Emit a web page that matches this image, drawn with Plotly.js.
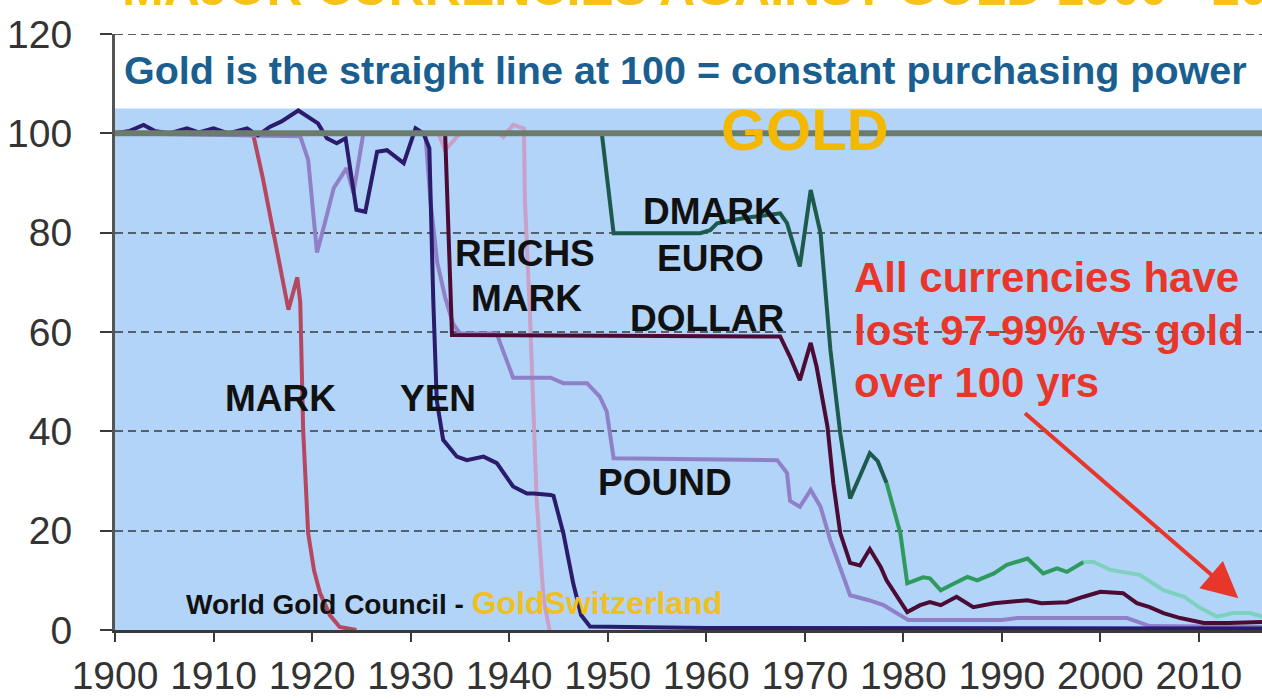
<!DOCTYPE html>
<html>
<head>
<meta charset="utf-8">
<script src="https://cdn.plot.ly/plotly-3.0.1.min.js"></script>
<style>html,body{margin:0;padding:0;background:#fff;}#chart{width:1262px;height:699px;}</style>
</head>
<body>
<div id="chart"></div>
<script>
// ---- Data (index, gold = 100) ----
const tickYears = [1900, 1910, 1920, 1930, 1940, 1950, 1960, 1970, 1980, 1990, 2000, 2010];
const tickLabels = ["1900", "1910", "1920", "1930", "1940", "1950", "1960", "1970", "1980", "1990", "2000", "2010"];
const yTicks = [0, 20, 40, 60, 80, 100, 120];

const goldYears = [1900, 2016.4];
const goldValues = [100, 100];

const markYears = [1900, 1914, 1915, 1916, 1917, 1917.6, 1918.5, 1918.8, 1919.1, 1919.6, 1920.2, 1920.8, 1921.8, 1922.8, 1924.5];
const markValues = [100, 100, 91, 81, 71, 64.5, 71, 66, 40, 19.5, 12, 7.5, 3, 0.6, 0];

const yenYears = [1900, 1901.5, 1902.9, 1904, 1905.5, 1907.3, 1908.5, 1910, 1911.5, 1913.4, 1914.5, 1915.7, 1916.9, 1918.6, 1920.6, 1921.5, 1922.5, 1923.4, 1924.5, 1925.4, 1926.6, 1927.6, 1929.3, 1930.5, 1931.3, 1931.9, 1932.3, 1932.65, 1933.3, 1934.7, 1935.7, 1937.4, 1938.75, 1940.4, 1941.8, 1942.5, 1944.2, 1944.5, 1945.5, 1946.5, 1947.3, 1948.2, 1960, 1980, 2000, 2016.4];
const yenValues = [100, 100.5, 101.7, 100.5, 100, 101, 100.2, 101, 100, 101, 99.6, 101.3, 102.4, 104.6, 102, 99, 98, 99, 84.6, 84.2, 96.3, 96.6, 94, 101, 100, 97, 66.4, 46.3, 38.3, 34.9, 34.2, 34.9, 33.6, 28.9, 27.5, 27.5, 27.2, 27, 19.5, 9.4, 3, 0.7, 0.4, 0.4, 0.4, 0.3];

const poundYears = [1900, 1918.8, 1919.6, 1920.5, 1921.3, 1922.2, 1923.5, 1924.2, 1925.2, 1931.5, 1932.0, 1932.7, 1933.5, 1934.3, 1935, 1938.75, 1939.1, 1940.4, 1944.2, 1945.5, 1947.9, 1949.2, 1949.9, 1950.6, 1967.2, 1968.2, 1968.5, 1969.5, 1970.6, 1971.6, 1972.6, 1974.6, 1976.5, 1978, 1980, 1980.5, 1990, 1991.6, 1997, 2002.7, 2005, 2016.4];
const poundValues = [100, 99.4, 94.7, 76, 82, 89, 93, 88, 100, 100, 86.6, 74, 67, 61.7, 59.7, 59.7, 57.7, 50.8, 50.8, 49.7, 49.7, 47, 44, 34.6, 34.2, 31.6, 26, 24.8, 28.2, 24.8, 18, 7, 6, 5, 2.6, 2, 2, 2.4, 2.4, 2.4, 0.8, 0.6];

const reichsYears = [1924, 1932.8, 1933.5, 1935, 1939, 1939.4, 1940.4, 1941.5, 1941.6, 1942.1, 1942.8, 1943.5, 1944.1];
const reichsValues = [100, 100, 96.6, 100, 100, 99.3, 101.7, 101, 86.6, 64, 26, 6, 0];

const dollarYears = [1900, 1933.5, 1934.2, 1967.5, 1968.5, 1969.5, 1970.6, 1971.2, 1972.3, 1972.9, 1973.6, 1974.6, 1975.6, 1976.6, 1977.7, 1978.3, 1980.4, 1981.7, 1982.7, 1983.8, 1985.4, 1987.1, 1989.2, 1992.6, 1994, 1996.6, 1998.3, 2000, 2002.3, 2003.7, 2005, 2006.4, 2008.1, 2010.5, 2013, 2016.4];
const dollarValues = [100, 100, 59.4, 59.1, 55, 50.3, 57.8, 53, 41, 29.5, 19.5, 13.5, 13, 16.3, 12.7, 10, 3.6, 5, 5.6, 5, 6.7, 4.6, 5.4, 6, 5.4, 5.6, 6.7, 7.7, 7.4, 5.4, 4.6, 3.4, 2.4, 1.4, 1.4, 1.6];

const dmarkYears = [1949.4, 1950.25, 1950.6, 1959.4, 1960.4, 1961.1, 1964, 1967.5, 1968.2, 1969.5, 1970.6, 1971.6, 1972.6, 1973.6, 1974.6, 1975.6, 1976.6, 1977.4, 1978.3];
const dmarkValues = [100, 86.6, 79.9, 79.9, 80.5, 81.9, 83, 83.9, 81.9, 73.2, 88.6, 79.9, 56.4, 39.6, 26.5, 31, 35.6, 34, 29.6];

const dmarkLateYears = [1978.3, 1979.7, 1980.4, 1982, 1982.7, 1983.8, 1985, 1986.5, 1987.5, 1989.2, 1990.5, 1992.6, 1994.2, 1995.6, 1996.6, 1998.3];
const dmarkLateValues = [29.6, 19.5, 9.4, 10.6, 10.4, 8, 9.2, 10.7, 10, 11.4, 13.1, 14.4, 11.4, 12.4, 11.7, 13.7];

const euroYears = [1998.3, 1999.3, 2001, 2004, 2006.4, 2008.5, 2010, 2011.8, 2013.5, 2015.2, 2016.4];
const euroValues = [13.7, 13.7, 12.1, 11.1, 8, 6.7, 4.6, 2.7, 3.4, 3.4, 2.7];

// ---- Styling ----
const FONT = '"Liberation Sans", Arial, Helvetica, sans-serif';
function line(x, y, color, width) {
  return {x: x, y: y, type: 'scatter', mode: 'lines', hoverinfo: 'skip', showlegend: false,
          line: {color: color, width: width, shape: 'linear'}};
}

const traces = [
  line(markYears, markValues, '#b5485f', 4),
  line(reichsYears, reichsValues, '#c9a0c8', 4),
  line(poundYears, poundValues, '#8f80c8', 4),
  line(yenYears, yenValues, '#2a1b6b', 4),
  line(dollarYears, dollarValues, '#4c0b34', 4),
  line(dmarkYears, dmarkValues, '#1b5a4d', 4),
  line(dmarkLateYears, dmarkLateValues, '#2f9a5e', 4),
  line(euroYears, euroValues, '#7ed0bf', 4),
  line(goldYears, goldValues, '#6c7c6c', 6)
];

function label(text, x, y, size, color, anchor) {
  return {text: text, x: x, y: y, xref: 'x', yref: 'y', showarrow: false,
          xanchor: anchor || 'center', yanchor: 'middle',
          font: {family: FONT, size: size, color: color, weight: 'bold'}};
}

const annotations = [
  {text: 'MAJOR CURRENCIES AGAINST GOLD 1900 - 2011', xref: 'paper', yref: 'paper', x: 0.004, y: 1.078,
   xanchor: 'left', yanchor: 'middle', showarrow: false,
   font: {family: FONT, size: 50, color: '#f7c21a', weight: 'bold'}},
  label('Gold is the straight line at 100 = constant purchasing power', 1900.7, 112.7, 39.5, '#1a5f8f', 'left'),
  label('GOLD', 1970.05, 100.7, 58, '#f5b800'),
  label('DMARK', 1960.6, 84.2, 37, '#111'),
  label('EURO', 1960.4, 74.9, 37, '#111'),
  label('REICHS', 1941.6, 75.9, 37, '#111'),
  label('MARK', 1941.8, 66.8, 37, '#111'),
  label('DOLLAR', 1960.1, 62.8, 37, '#111'),
  label('MARK', 1916.75, 46.7, 37, '#111'),
  label('YEN', 1932.8, 46.7, 37, '#111'),
  label('POUND', 1955.8, 29.6, 37, '#111'),
  label('All currencies have', 1974.8, 70.9, 42, '#e8372a', 'left'),
  label('lost 97-99% vs gold', 1974.8, 60.4, 42, '#e8372a', 'left'),
  label('over 100 yrs', 1974.8, 49.9, 42, '#e8372a', 'left'),
  label('World Gold Council - <span style="color:#f0c020;font-size:32px">GoldSwitzerland</span>', 1907.0, 5.5, 28, '#111', 'left'),
  {text: '', x: 2014.0, y: 6.4, xref: 'x', yref: 'y', ax: 1992.2, ay: 43.9, axref: 'x', ayref: 'y',
   showarrow: true, arrowhead: 2, arrowsize: 1.8, arrowwidth: 4, arrowcolor: '#e8372a', standoff: 0}
];

const layout = {
  width: 1262, height: 699,
  margin: {l: 115, r: 0, t: 34, b: 69, pad: 0},
  paper_bgcolor: '#ffffff', plot_bgcolor: '#ffffff',
  showlegend: false,
  xaxis: {
    range: [1900, 2016.4], tickmode: 'array', tickvals: tickYears, ticktext: tickLabels,
    showgrid: false, zeroline: false, showline: true, linecolor: '#3a3a3a', linewidth: 3,
    ticks: 'outside', ticklen: 9, tickwidth: 2, tickcolor: '#3a3a3a',
    tickfont: {family: FONT, size: 39, color: '#333'}, fixedrange: true
  },
  yaxis: {
    range: [0, 120], tickmode: 'array', tickvals: yTicks,
    showgrid: true, gridcolor: '#55606c', gridwidth: 2, griddash: '8px,5px',
    zeroline: false, showline: true, linecolor: '#555', linewidth: 3,
    ticks: 'outside', ticklen: 12, tickwidth: 2, tickcolor: '#3a3a3a',
    ticklabelstandoff: 20,
    tickfont: {family: FONT, size: 39, color: '#333'}, fixedrange: true
  },
  shapes: [
    {type: 'rect', xref: 'paper', yref: 'y', x0: 0, x1: 1, y0: 0, y1: 105,
     fillcolor: '#b2d4f8', line: {width: 0}, layer: 'below'},
    {type: 'line', xref: 'paper', yref: 'y', x0: 0, x1: 1, y0: 120, y1: 120,
     line: {color: '#55606c', width: 2, dash: '8px,5px'}, layer: 'below'}
  ],
  annotations: annotations
};

Plotly.newPlot('chart', traces, layout, {staticPlot: true, displayModeBar: false});
</script>
</body>
</html>
